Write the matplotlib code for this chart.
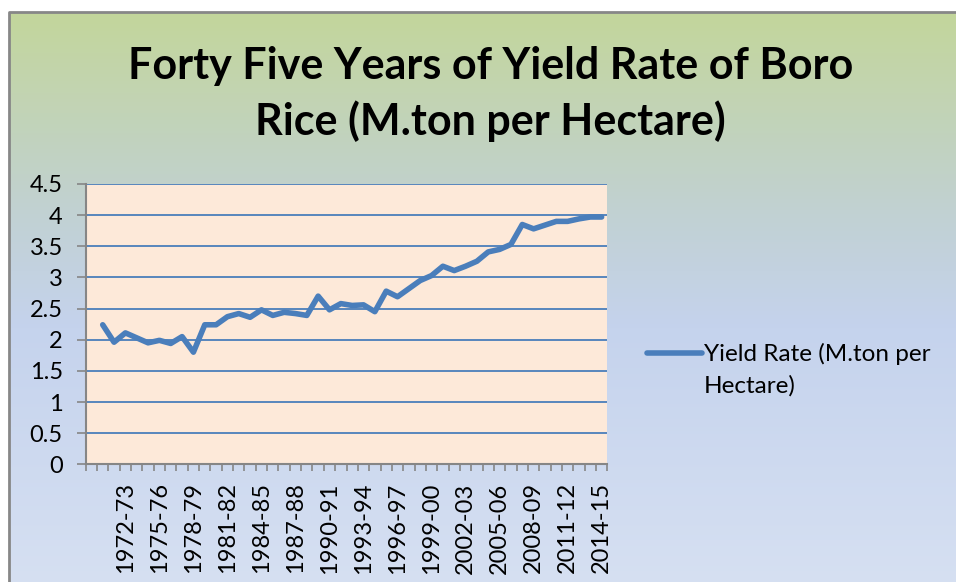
import numpy as np
import matplotlib.pyplot as plt
from matplotlib.colors import LinearSegmentedColormap

# categories (first slot is an empty category in the original chart)
seasons = [""] + ["%d-%02d" % (y, (y + 1) % 100) for y in range(1970, 2015)]
yield_rate = [np.nan,
              2.24, 1.96, 2.11, 2.03, 1.95, 1.99, 1.94, 2.05, 1.80, 2.24,
              2.24, 2.37, 2.42, 2.36, 2.48, 2.39, 2.44, 2.42, 2.39, 2.70,
              2.48, 2.58, 2.55, 2.56, 2.45, 2.78, 2.69, 2.82, 2.95, 3.03,
              3.18, 3.11, 3.18, 3.26, 3.41, 3.45, 3.53, 3.85, 3.78, 3.84,
              3.90, 3.90, 3.94, 3.97, 3.97]
series_line1 = "Yield Rate (M.ton per"
series_line2 = "Hectare)"
title = "Forty Five Years of Yield Rate of Boro\nRice (M.ton per Hectare)"

FONT = "Lato"
W, H = 956, 582
fig = plt.figure(figsize=(W / 100, H / 100), dpi=100)

# gradient background with grey frame
bg = fig.add_axes([0, 0, 1, 1], zorder=0)
bg.axis("off")
cmap = LinearSegmentedColormap.from_list(
    "bg", [(0.0, "#c3d69b"), (0.35, "#c1d1d3"), (0.55, "#c5d3ed"), (1.0, "#d6e0f2")])
grad = np.linspace(0, 1, 256).reshape(-1, 1)
bg.imshow(grad, cmap=cmap, aspect="auto", extent=[9, W + 5, H + 5, 12])
bg.plot([9, 9, W + 5], [H + 5, 12, 12], color="#878787", lw=2, solid_capstyle="butt")
bg.set_xlim(0, W)
bg.set_ylim(H, 0)

ax = fig.add_axes([85.7 / W, 1 - 464.3 / H, (607.3 - 85.7) / W, (464.3 - 184) / H], zorder=1)
ax.set_facecolor("#fde9d9")
x = np.arange(len(seasons))
ax.plot(x, yield_rate, color="#4a7ebb", lw=4.0, solid_joinstyle="round",
        solid_capstyle="round", zorder=3)
ax.set_xlim(-0.5, len(seasons) - 0.5)
ax.set_ylim(0, 4.5)
ax.set_yticks(np.arange(0, 4.51, 0.5))
ax.set_yticklabels(["0", "0.5", "1", "1.5", "2", "2.5", "3", "3.5", "4", "4.5"],
                   family=FONT, fontsize=17)
ax.yaxis.grid(True, color="#4a7ebb", lw=1.3)
ax.set_axisbelow(True)

ax.set_xticks(x[::3])
ax.set_xticklabels(seasons[::3], rotation=90, family=FONT, fontsize=17)
ax.set_xticks(np.arange(-0.5, len(seasons), 1), minor=True)
ax.tick_params(axis="x", which="major", length=0, pad=13)
ax.tick_params(axis="x", which="minor", length=5, width=1.2, color="#868686")
ax.tick_params(axis="y", length=6.5, width=1.2, color="#868686", pad=10)
for s in ["top", "right"]:
    ax.spines[s].set_visible(False)
for s in ["left", "bottom"]:
    ax.spines[s].set_color("#868686")
    ax.spines[s].set_linewidth(1.5)

fig.text(0.513, 0.838, title, ha="center", va="center", fontsize=31,
         fontweight="bold", family=FONT, linespacing=1.42)

ax.lines[0].set_label(series_line1)
leg = ax.legend(loc="upper left", bbox_to_anchor=(647 / W, 1 - 343 / H),
                bbox_transform=fig.transFigure, frameon=False,
                prop={"family": FONT, "size": 17.5}, handlelength=2.25,
                handletextpad=0.1, borderaxespad=0, borderpad=0)

# second line of the legend label, placed under the first one
fig.canvas.draw()
bb = leg.get_texts()[0].get_window_extent()
fig.text(bb.x0 / W, (bb.y0 - 10) / H, series_line2, ha="left", va="top",
         family=FONT, fontsize=17.5)

fig.savefig("out.png", dpi=100)
